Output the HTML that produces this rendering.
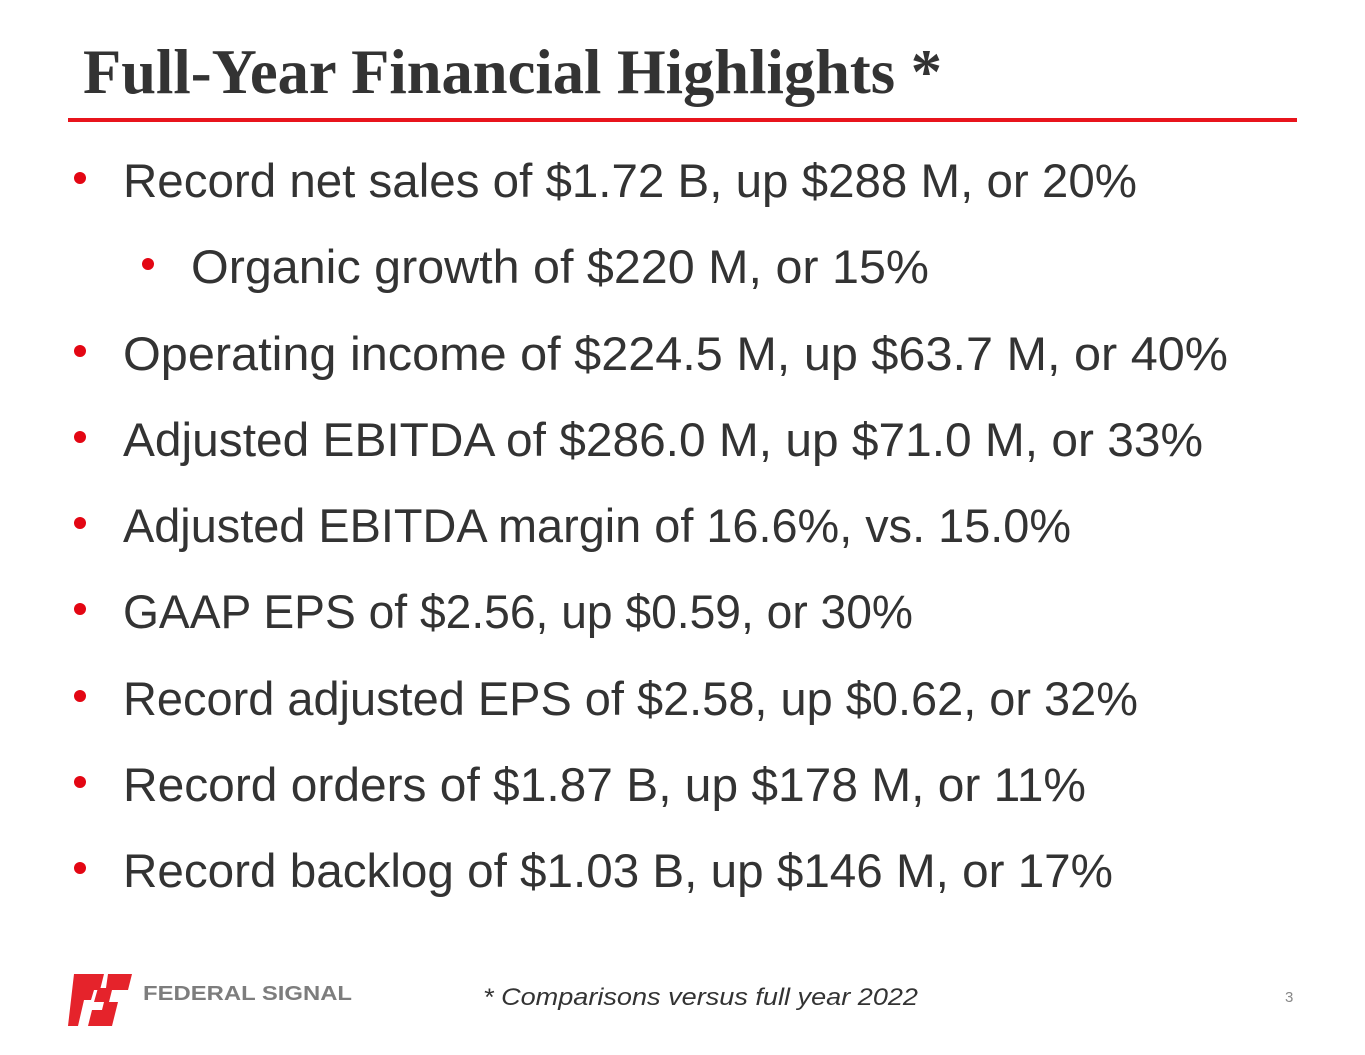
<!DOCTYPE html>
<html><head><meta charset="utf-8"><style>
html,body{margin:0;padding:0;background:#fff;}
svg{display:block;}
</style></head><body>
<svg width="1365" height="1055" viewBox="0 0 1365 1055">
<rect width="1365" height="1055" fill="#fff"/>
<text x="83" y="93" font-family="Liberation Serif, serif" font-weight="bold" font-size="64" fill="#333" textLength="859" lengthAdjust="spacingAndGlyphs">Full-Year Financial Highlights *</text>
<rect x="68" y="118" width="1229" height="4" fill="#e8141c"/>
<g font-family="Liberation Sans, sans-serif" font-size="47" fill="#333">
<circle cx="80" cy="178" r="6" fill="#e30613"/><text x="123" y="197" textLength="1014" lengthAdjust="spacingAndGlyphs">Record net sales of $1.72 B, up $288 M, or 20%</text>
<circle cx="148" cy="264" r="6" fill="#e30613"/><text x="191" y="283" textLength="738" lengthAdjust="spacingAndGlyphs">Organic growth of $220 M, or 15%</text>
<circle cx="80" cy="351" r="6" fill="#e30613"/><text x="123" y="370" textLength="1105" lengthAdjust="spacingAndGlyphs">Operating income of $224.5 M, up $63.7 M, or 40%</text>
<circle cx="80" cy="437" r="6" fill="#e30613"/><text x="123" y="456" textLength="1080" lengthAdjust="spacingAndGlyphs">Adjusted EBITDA of $286.0 M, up $71.0 M, or 33%</text>
<circle cx="80" cy="523" r="6" fill="#e30613"/><text x="123" y="542" textLength="948" lengthAdjust="spacingAndGlyphs">Adjusted EBITDA margin of 16.6%, vs. 15.0%</text>
<circle cx="80" cy="609" r="6" fill="#e30613"/><text x="123" y="628" textLength="790" lengthAdjust="spacingAndGlyphs">GAAP EPS of $2.56, up $0.59, or 30%</text>
<circle cx="80" cy="696" r="6" fill="#e30613"/><text x="123" y="715" textLength="1015" lengthAdjust="spacingAndGlyphs">Record adjusted EPS of $2.58, up $0.62, or 32%</text>
<circle cx="80" cy="782" r="6" fill="#e30613"/><text x="123" y="801" textLength="963" lengthAdjust="spacingAndGlyphs">Record orders of $1.87 B, up $178 M, or 11%</text>
<circle cx="80" cy="868" r="6" fill="#e30613"/><text x="123" y="887" textLength="990" lengthAdjust="spacingAndGlyphs">Record backlog of $1.03 B, up $146 M, or 17%</text>
</g>
<g>
<path d="M74 974 H104 L100 990 H94 L91 1000 H84 L78 1026 H68 Z" fill="#e5232b"/>
<path d="M108 974 H132 L128 990 H112 L109 1002 H118 L112 1026 H88 L92 1010 H102 L104 1002 H94 L98 988 H106 Z" fill="#e5232b"/>
<text x="143" y="1000" font-family="Liberation Sans, sans-serif" font-weight="bold" font-size="20" fill="#7d7d7d" textLength="209" lengthAdjust="spacingAndGlyphs">FEDERAL  SIGNAL</text>
</g>
<text x="483" y="1005" font-family="Liberation Sans, sans-serif" font-style="italic" font-size="24" fill="#333" textLength="435" lengthAdjust="spacingAndGlyphs">* Comparisons versus full year 2022</text>
<text x="1285" y="1002" font-family="Liberation Sans, sans-serif" font-size="15" fill="#888">3</text>
</svg>
</body></html>
